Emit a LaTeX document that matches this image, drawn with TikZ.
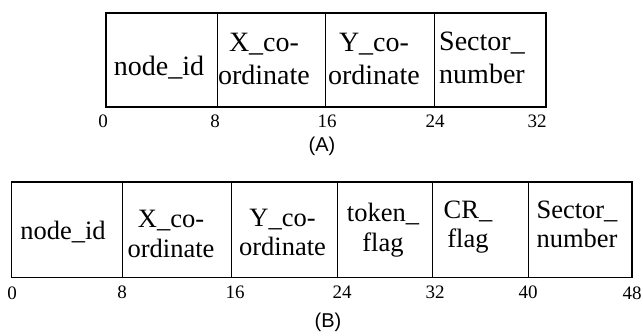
\documentclass[tikz,border=0pt]{standalone}
\usepackage{fontspec}
\setmainfont{Liberation Serif}
\setsansfont{Liberation Sans}
\begin{document}
\begin{tikzpicture}[x=1pt,y=-1pt,
  cell/.style={draw, line width=1pt, inner sep=0pt, outer sep=0pt},
  frame/.style={line width=1.4pt},
  fa/.style={inner sep=0pt, anchor=base, font=\fontsize{28}{33}\selectfont},
  fb/.style={inner sep=0pt, anchor=base, font=\fontsize{26.5}{29.5}\selectfont},
  num/.style={inner sep=0pt, font=\fontsize{19}{21}\selectfont},
  capt/.style={inner sep=0pt, font=\sffamily\fontsize{20}{22}\selectfont}]
\useasboundingbox (0,0) rectangle (643,335);
% ---- (A) ----
\node[cell, minimum width=111pt, minimum height=94pt] (ca1) at (161.5,60) {};
\node[cell, minimum width=108pt, minimum height=94pt] (ca2) at (271,60) {};
\node[cell, minimum width=109pt, minimum height=94pt] (ca3) at (379.5,60) {};
\node[cell, minimum width=112pt, minimum height=94pt] (ca4) at (490,60) {};
\draw[frame] (ca1.north west) rectangle (ca4.south east);
\node[fa] (ta1) at (159,75) {node\_id};
\node[fa] (ta2) at (264,51.5) {\begin{tabular}[t]{@{}c@{}}X\_co-\\ordinate\end{tabular}};
\node[fa] (ta3) at (374,51.5) {\begin{tabular}[t]{@{}c@{}}Y\_co-\\ordinate\end{tabular}};
\node[fa] (ta4) at (482,50) {\begin{tabular}[t]{@{}c@{}}Sector\_\\number\end{tabular}};
\node[num] (na0) at (103,121) {0};
\node[num] (na8) at (215,121) {8};
\node[num] (na16) at (327,121) {16};
\node[num] (na24) at (435,121) {24};
\node[num] (na32) at (537,121) {32};
\node[capt] (capA) at (322,146.5) {(A)};
% ---- (B) ----
\node[cell, minimum width=110.3pt, minimum height=95.7pt] (cb1) at (66.85,229.85) {};
\node[cell, minimum width=109pt, minimum height=95.7pt] (cb2) at (176.5,229.85) {};
\node[cell, minimum width=106pt, minimum height=95.7pt] (cb3) at (284,229.85) {};
\node[cell, minimum width=95pt, minimum height=95.7pt] (cb4) at (384.5,229.85) {};
\node[cell, minimum width=96pt, minimum height=95.7pt] (cb5) at (480,229.85) {};
\node[cell, minimum width=104pt, minimum height=95.7pt] (cb6) at (580,229.85) {};
\draw[frame] (cb1.north west) rectangle (cb6.south east);
\node[fb] (tb1) at (63,239) {node\_id};
\node[fb] (tb2) at (171,227.5) {\begin{tabular}[t]{@{}c@{}}X\_co-\\ordinate\end{tabular}};
\node[fb] (tb3) at (282.5,226) {\begin{tabular}[t]{@{}c@{}}Y\_co-\\ordinate\end{tabular}};
\node[fb] (tb4) at (383,221.5) {\begin{tabular}[t]{@{}c@{}}token\_\\flag\end{tabular}};
\node[fb] (tb5) at (468,218) {\begin{tabular}[t]{@{}c@{}}CR\_\\flag\end{tabular}};
\node[fb] (tb6) at (577,218) {\begin{tabular}[t]{@{}c@{}}Sector\_\\number\end{tabular}};
\node[num] (nb0) at (12,293) {0};
\node[num] (nb8) at (122,292) {8};
\node[num] (nb16) at (235,292) {16};
\node[num] (nb24) at (342,292) {24};
\node[num] (nb32) at (435,292) {32};
\node[num] (nb40) at (528,292) {40};
\node[num] (nb48) at (632,293) {48};
\node[capt] (capB) at (328,322) {(B)};
\end{tikzpicture}
\end{document}
